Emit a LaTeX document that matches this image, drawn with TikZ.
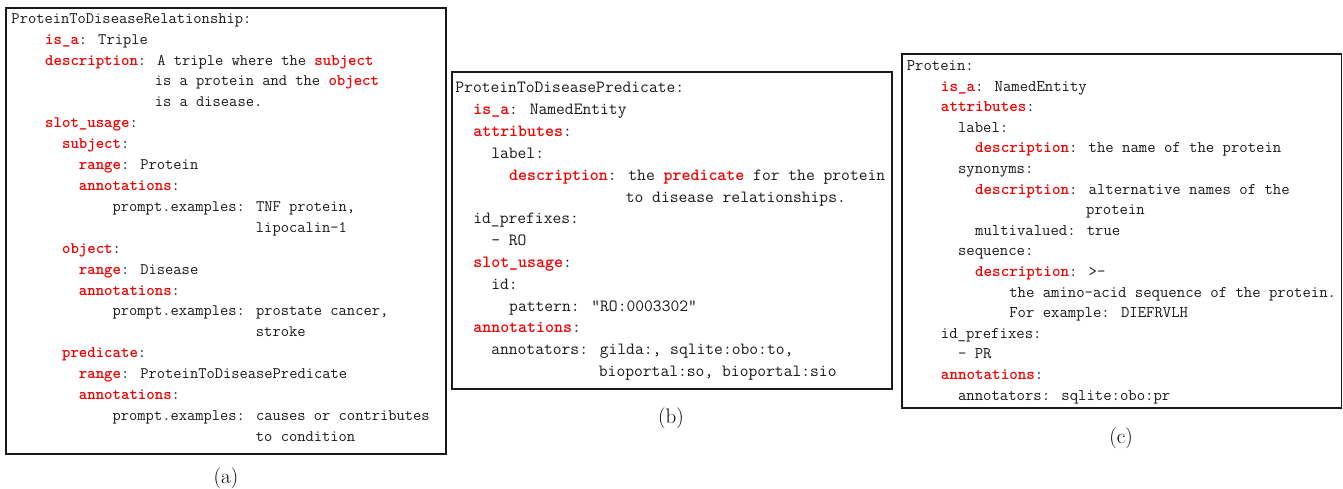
\documentclass[tikz,border=0pt]{standalone}
\usepackage{xcolor}
\definecolor{kwred}{RGB}{240,0,0}
\definecolor{txtgray}{RGB}{25,25,25}
\newcommand\kw[1]{\textcolor{kwred}{\bfseries #1}}
\newcommand\boxparams[5]{\def\bx{#1}\def\by{#2}\def\bcw{#3}\def\bls{#4}\def\bfs{#5}}
\newcommand\codeline[4]{\node[codetxt] (#1) at ({\bx+#3*\bcw},{\by+#2*\bls}) {#4};}
\tikzset{
  codetxt/.style={anchor=base west, inner sep=0pt, text=txtgray,
    font=\ttfamily\fontsize{\bfs}{\bfs}\selectfont},
  frame/.style={draw=black!90, line width=1.6pt},
  captxt/.style={anchor=base, inner sep=0pt, font=\rmfamily\fontsize{21}{22}\selectfont}
}
\begin{document}
\begin{tikzpicture}[x=1pt,y=-1pt]
\useasboundingbox (0,0) rectangle (1343,489);
% ---------- (a)
\draw[frame] (6,8) rectangle (446,454);
\boxparams{11.3}{23.3}{8.43}{20.9}{16.06}
\codeline{a0}{0}{0}{ProteinToDiseaseRelationship:}
\codeline{a1}{1}{4}{\kw{is\_a}: Triple}
\codeline{a2}{2}{4}{\kw{description}: A triple where the \kw{subject}}
\codeline{a3}{3}{17}{is a protein and the \kw{object}}
\codeline{a4}{4}{17}{is a disease.}
\codeline{a5}{5}{4}{\kw{slot\_usage}:}
\codeline{a6}{6}{6}{\kw{subject}:}
\codeline{a7}{7}{8}{\kw{range}: Protein}
\codeline{a8}{8}{8}{\kw{annotations}:}
\codeline{a9}{9}{12}{prompt.examples: TNF protein,}
\codeline{a10}{10}{29}{lipocalin-1}
\codeline{a11}{11}{6}{\kw{object}:}
\codeline{a12}{12}{8}{\kw{range}: Disease}
\codeline{a13}{13}{8}{\kw{annotations}:}
\codeline{a14}{14}{12}{prompt.examples: prostate cancer,}
\codeline{a15}{15}{29}{stroke}
\codeline{a16}{16}{6}{\kw{predicate}:}
\codeline{a17}{17}{8}{\kw{range}: ProteinToDiseasePredicate}
\codeline{a18}{18}{8}{\kw{annotations}:}
\codeline{a19}{19}{12}{prompt.examples: causes or contributes}
\codeline{a20}{20}{29}{to condition}
\node[captxt] (capa) at (226,483) {(a)};
% ---------- (b)
\draw[frame] (452,72) rectangle (892,389);
\boxparams{455.2}{93}{8.97}{21.8}{17.09}
\codeline{b0}{0}{0}{ProteinToDiseasePredicate:}
\codeline{b1}{1}{2}{\kw{is\_a}: NamedEntity}
\codeline{b2}{2}{2}{\kw{attributes}:}
\codeline{b3}{3}{4}{label:}
\codeline{b4}{4}{6}{\kw{description}: the \kw{predicate} for the protein}
\codeline{b5}{5}{19}{to disease relationships.}
\codeline{b6}{6}{2}{id\_prefixes:}
\codeline{b7}{7}{4}{- RO}
\codeline{b8}{8}{2}{\kw{slot\_usage}:}
\codeline{b9}{9}{4}{id:}
\codeline{b10}{10}{6}{pattern: "RO:0003302"}
\codeline{b11}{11}{2}{\kw{annotations}:}
\codeline{b12}{12}{4}{annotators: gilda:, sqlite:obo:to,}
\codeline{b13}{13}{16}{bioportal:so, bioportal:sio}
\node[captxt] (capb) at (671,423) {(b)};
% ---------- (c)
\draw[frame] (902,54) rectangle (1341.5,408);
\boxparams{906.6}{70.5}{8.54}{20.6}{16.27}
\codeline{c0}{0}{0}{Protein:}
\codeline{c1}{1}{4}{\kw{is\_a}: NamedEntity}
\codeline{c2}{2}{4}{\kw{attributes}:}
\codeline{c3}{3}{6}{label:}
\codeline{c4}{4}{8}{\kw{description}: the name of the protein}
\codeline{c5}{5}{6}{synonyms:}
\codeline{c6}{6}{8}{\kw{description}: alternative names of the}
\codeline{c7}{7}{21}{protein}
\codeline{c8}{8}{8}{multivalued: true}
\codeline{c9}{9}{6}{sequence:}
\codeline{c10}{10}{8}{\kw{description}: >-}
\codeline{c11}{11}{12}{the amino-acid sequence of the protein.}
\codeline{c12}{12}{12}{For example: DIEFRVLH}
\codeline{c13}{13}{4}{id\_prefixes:}
\codeline{c14}{14}{6}{- PR}
\codeline{c15}{15}{4}{\kw{annotations}:}
\codeline{c16}{16}{6}{annotators: sqlite:obo:pr}
\node[captxt] (capc) at (1121,443) {(c)};
\end{tikzpicture}
\end{document}
